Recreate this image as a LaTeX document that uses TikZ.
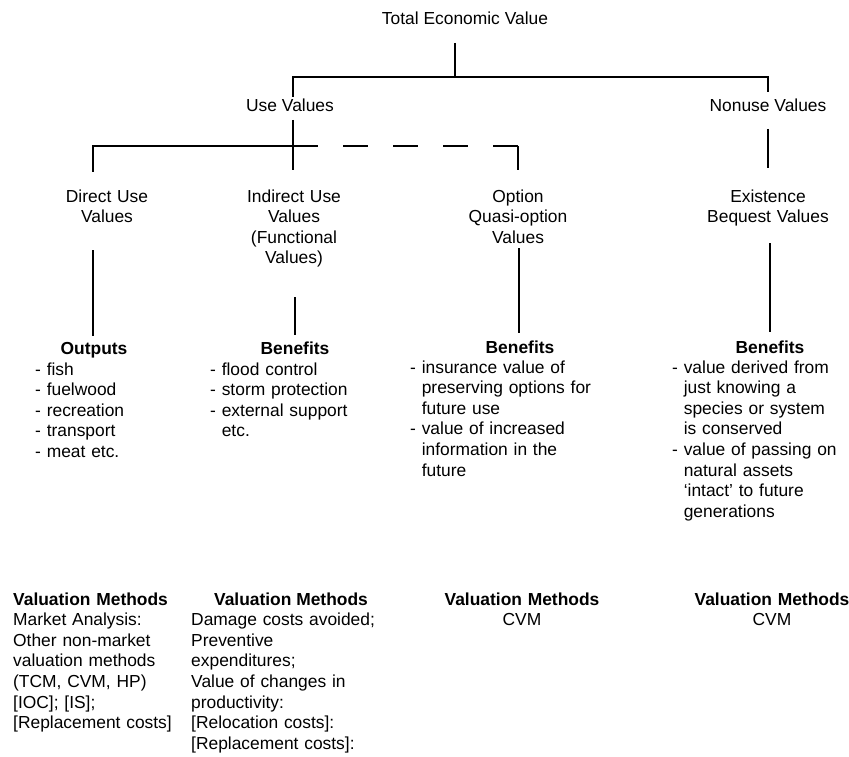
\documentclass[tikz,border=0pt]{standalone}
\usepackage{fontspec}
\setmainfont{Liberation Sans}
\usetikzlibrary{calc}
\newcommand\lsind{\phantom{- }}
\begin{document}
\begin{tikzpicture}[x=1pt,y=-1pt,
  lbl/.style={inner sep=0pt, font=\fontsize{17.4}{20.6}\selectfont},
  ctr/.style={inner sep=0pt, font=\fontsize{17.4}{20.6}\selectfont, text width=#1, align=center},
  hdr/.style={inner sep=0pt, font=\fontsize{17.4}{20.6}\selectfont\bfseries},
  lst/.style={inner sep=0pt, font=\fontsize{17.4}{20.6}\selectfont, text width=#1, align=left},
  conn/.style={line width=1.6pt}]
\useasboundingbox (0,0) rectangle (849,757);
% top levels
\node[lbl, anchor=base] (tev) at (465,25) {Total Economic Value};
\node[lbl, anchor=base] (use) at (290,112) {Use Values};
\node[lbl, anchor=base] (nonuse) at (768,112) {Nonuse Values};
% value types
\node[ctr=160pt, anchor=base] (direct) at (107,202) {Direct Use\\Values};
\node[ctr=160pt, anchor=base] (indirect) at (294,202) {Indirect Use\\Values\\(Functional\\Values)};
\node[ctr=160pt, anchor=base] (option) at (518,202) {Option\\Quasi-option\\Values};
\node[ctr=160pt, anchor=base] (exist) at (768,202) {Existence\\Bequest Values};
% headers
\node[hdr, anchor=base] (outputs) at (94,354) {Outputs};
\node[hdr, anchor=base] (ben1) at (295,354) {Benefits};
\node[hdr, anchor=base] (ben2) at (520,353) {Benefits};
\node[hdr, anchor=base] (ben3) at (770,353) {Benefits};
% lists
\node[lst=140pt, anchor=base west] (l1) at (35,375) {- fish\\- fuelwood\\- recreation\\- transport\\- meat etc.};
\node[lst=180pt, anchor=base west] (l2) at (210,375) {- flood control\\- storm protection\\- external support\\\lsind etc.};
\node[lst=200pt, anchor=base west] (l3) at (410,373) {- insurance value of\\\lsind preserving options for\\\lsind future use\\- value of increased\\\lsind information in the\\\lsind future};
\node[lst=175pt, anchor=base west] (l4) at (672,373) {- value derived from\\\lsind just knowing a\\\lsind species or system\\\lsind is conserved\\- value of passing on\\\lsind natural assets\\\lsind ‘intact’ to future\\\lsind generations};
% valuation methods
\node[lst=175pt, anchor=base west] (vm1) at (13,605) {\textbf{Valuation Methods}\\Market Analysis:\\Other non-market\\valuation methods\\(TCM, CVM, HP)\\{}[IOC]; [IS];\\{}[Replacement costs]};
\node[hdr, anchor=base] (vm2h) at (291,605) {Valuation Methods};
\node[lst=200pt, anchor=base west] (vm2) at (191,625.6) {Damage costs avoided;\\Preventive\\expenditures;\\Value of changes in\\productivity:\\{}[Relocation costs]:\\{}[Replacement costs]:};
\node[ctr=170pt, anchor=base] (vm3) at (522,605) {\textbf{Valuation Methods}\\CVM};
\node[ctr=170pt, anchor=base] (vm4) at (772,605) {\textbf{Valuation Methods}\\CVM};
% connectors
\coordinate (jA) at (455,77);
\coordinate (jB) at (293,146);
\draw[conn] ($(tev.base -| jA)+(0,18)$) -- (jA);
\draw[conn] ($(use.base)+(3,-15)$) |- (jA) -| ($(nonuse.base)+(0,-20)$);
\draw[conn] ($(use.base)+(3,8)$) -- ($(use.base |- indirect.base)+(3,-32)$);
\draw[conn] ($(direct.base)+(-14,-30)$) |- (jB);
\draw[conn, dash pattern=on 25pt off 25pt] (jB) -- (jB -| option.base);
\draw[conn] (jB -| option.base) -- ($(option.base)+(0,-32)$);
\draw[conn] ($(nonuse.base)+(0,17)$) -- ($(exist.base)+(0,-34)$);
\draw[conn] ($(direct.base)+(-14,48)$) -- ($(outputs.base)+(-1,-18)$);
\draw[conn] ($(indirect.base)+(1,95)$) -- ($(ben1.base)+(0,-19)$);
\draw[conn] ($(option.base)+(1,46)$) -- ($(ben2.base)+(-1,-20)$);
\draw[conn] ($(exist.base)+(2,41)$) -- ($(ben3.base)+(0,-21)$);
\end{tikzpicture}
\end{document}
